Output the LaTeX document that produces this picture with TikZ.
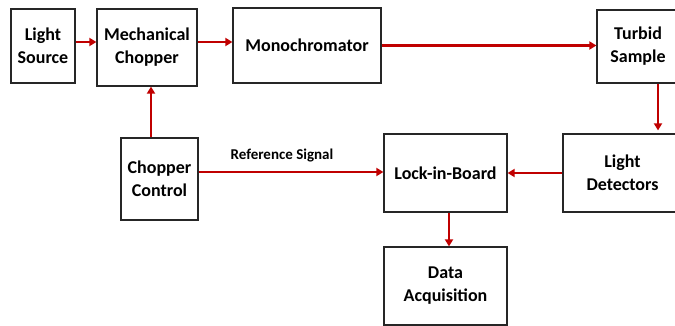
\documentclass[tikz,border=0pt]{standalone}
\usepackage{fontspec}
\setmainfont{Carlito}
\usetikzlibrary{arrows.meta}

\definecolor{pfeilrot}{RGB}{192,0,0}

\begin{document}
\begin{tikzpicture}[x=1pt,y=-1pt,
	block/.style={draw=black!85, line width=1.2pt, fill=white, align=center,
		font=\bfseries\fontsize{18}{23}\selectfont, inner sep=0pt},
	pfeil/.style={draw=pfeilrot, line width=2.2pt, -{Triangle[length=7pt,width=8pt]}}]

	\useasboundingbox (0,0) rectangle (675,326);
	\clip (0,0) rectangle (675,326);

	% Bloecke oben
	\node[block, minimum width=64, minimum height=74] (ls) at (43,46) {Light\\Source};
	\node[block, minimum width=100, minimum height=77] (mc) at (147,47.5) {Mechanical\\Chopper};
	\node[block, minimum width=148, minimum height=75] (mono) at (307,45.5) {Monochromator};
	\node[block, minimum width=82, minimum height=73] (ts) at (638,46.5) {Turbid\\Sample};

	% Bloecke unten
	\node[block, minimum width=77, minimum height=82] (cc) at (159.5,179) {Chopper\\Control};
	\node[block, minimum width=123, minimum height=78] (lb) at (445.5,173) {Lock-in-Board};
	\node[block, minimum width=119, minimum height=78] (ld) at (622.5,173) {Light\\Detectors};
	\node[block, minimum width=123, minimum height=78] (da) at (445.5,286) {Data\\Acquisition};

	% Pfeile
	\draw[pfeil] ([yshift=4]ls.east) -- ([yshift=4]ls.east -| mc.west);
	\draw[pfeil] ([yshift=5.5]mc.east) -- ([yshift=5.5]mc.east -| mono.west);
	\draw[pfeil] (mono.east) -- (mono.east -| ts.west);
	\draw[pfeil, shorten >=3pt] ([xshift=20]ts.south) -- ([xshift=20]ts.south |- ld.north);
	\draw[pfeil] (ld.west) -- (lb.east);
	\draw[pfeil] ([yshift=7]cc.east) -- ([yshift=7]cc.east -| lb.west);
	\draw[pfeil] ([xshift=-8.5]cc.north) -- ([xshift=-8.5]cc.north |- mc.south);
	\draw[pfeil] ([xshift=3.5]lb.south) -- ([xshift=3.5]lb.south |- da.north);

	% Beschriftung
	\node[font=\bfseries\fontsize{15}{18}\selectfont] (ref) at (282,156) {Reference Signal};

\end{tikzpicture}
\end{document}
